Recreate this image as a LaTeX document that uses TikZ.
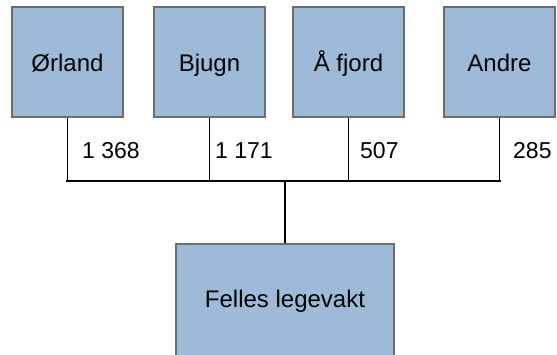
\documentclass[tikz,border=0pt]{standalone}
\usepackage{fontspec}
\setmainfont{Liberation Sans}
\begin{document}
\begin{tikzpicture}[x=1bp,y=-1bp,
  unitbox/.style={draw=boxline, fill=boxfill, line width=1.8bp,
    minimum width=111bp, minimum height=110bp, inner sep=0pt,
    text height=22bp, text depth=4bp,
    font=\fontsize{24bp}{28bp}\selectfont},
  feed/.style={draw=black, line width=1.1bp},
  trunk/.style={draw=black, line width=2.2bp},
  count/.style={anchor=west, inner sep=0pt, font=\fontsize{23bp}{27bp}\selectfont}]
\definecolor{boxfill}{RGB}{157,187,216}
\definecolor{boxline}{RGB}{110,110,110}
\useasboundingbox (0,0) rectangle (557,354);

% municipality boxes
\node[unitbox] (orland) at (67.5,62)  {Ørland};
\node[unitbox] (bjugn)  at (209.5,62) {Bjugn};
\node[unitbox] (afjord) at (348.5,62) {Å fjord};
\node[unitbox] (andre)  at (499.5,62) {Andre};

% shared out-of-hours service
\node[unitbox, minimum width=218bp, minimum height=112bp,
      text height=19bp, text depth=5bp] (felles) at (285,300) {Felles legevakt};

% junction on the collecting line
\coordinate (join) at (285,181);

% feeder lines down to the collecting line
\draw[feed] (orland.south) -- (orland.south |- join);
\draw[feed] (bjugn.south)  -- (bjugn.south |- join);
\draw[feed] (afjord.south) -- (afjord.south |- join);
\draw[feed] (andre.south)  -- (andre.south |- join);

% collecting line and stem to the shared service
\draw[trunk, line cap=rect] (orland.south |- join) -- (andre.south |- join);
\draw[trunk] (join) -- (felles.north);

% counts
\node[count] (n1) at (82,151)  {1 368};
\node[count] (n2) at (215,151) {1 171};
\node[count] (n3) at (360,151) {507};
\node[count] (n4) at (513,151) {285};
\end{tikzpicture}
\end{document}
